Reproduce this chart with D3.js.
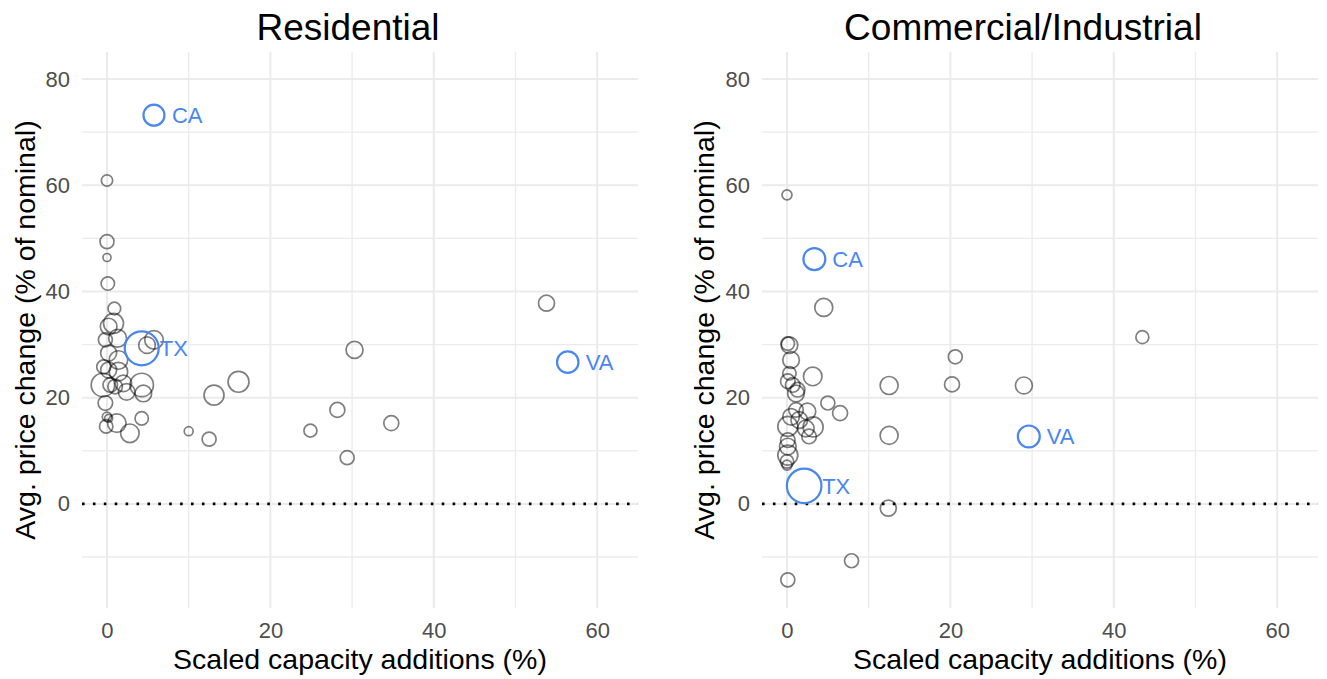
<!DOCTYPE html>
<html>
<head>
<meta charset="utf-8">
<script src="https://cdn.jsdelivr.net/npm/d3@7"></script>
<style>
  html, body { margin: 0; padding: 0; background: #ffffff; }
  svg { display: block; font-family: "Liberation Sans", Arial, sans-serif; }
</style>
</head>
<body>
<svg id="chart" width="1327" height="679"></svg>
<script>
// ---------------- DATA ----------------
const panelTitles = ["Residential", "Commercial/Industrial"];
const xTicks = [0, 20, 40, 60];
const xMinor = [10, 30, 50];
const yTicks = [0, 20, 40, 60, 80];
const yMinor = [-10, 10, 30, 50, 70];
const xTitle = "Scaled capacity additions (%)";
const yTitle = "Avg. price change (% of nominal)";

// Residential
const resX = [5.75, 4.25, 56.4,
  0, 0, 0, 0.1, 0.9, 0.8, 0.2, -0.2, 1.3, 4.9, 5.75, 0.2, 1.4, -0.4, 0.2, 1.4,
  -0.5, 0.4, 1.0, 2.0, 4.25, 4.45, 2.4, -0.2, 0, 0.2, -0.1, 1.2, 4.25, 2.8,
  10.0, 12.5, 13.1, 16.1, 24.9, 28.2, 29.4, 30.3, 34.8, 53.8];
const resY = [73.2, 29.3, 26.7,
  60.9, 49.4, 46.4, 41.5, 36.8, 34.0, 33.4, 30.9, 31.2, 29.9, 30.9, 28.4, 27.1, 25.8, 25.2, 24.9,
  22.4, 22.4, 22.1, 22.7, 22.4, 20.8, 21.1, 19.0, 16.4, 16.1, 14.6, 15.2, 16.1, 13.3,
  13.7, 12.2, 20.5, 23.0, 13.8, 17.7, 8.7, 29.0, 15.2, 37.8];
const resSize = [110, 289, 115,
  32, 49, 16, 45, 40, 100, 69, 49, 80, 69, 86, 64, 86, 49, 64, 86,
  137, 53, 53, 69, 137, 69, 69, 53, 22, 16, 45, 86, 45, 86,
  20, 49, 100, 110, 42, 56, 49, 72, 56, 64];
const resLabel = ["CA", "TX", "VA"];

// Commercial/Industrial
const comX = [3.35, 2.1, 29.6,
  0, 4.5, 43.5, 20.6, 12.5, 20.2, 29.0, 12.5, 12.4, 7.9, 0.1, 5.0, 6.5,
  0.1, 0.3, 0.5, 0.3, 3.15, 0.1, 0.7, 1.3, 1.1, 1.1, 2.5, 0.5, 1.5, 0.1, 2.3, 3.2,
  2.7, 0.1, 0.1, 0.1, 0, 0];
const comY = [46.1, 3.4, 12.7,
  58.2, 37.0, 31.4, 27.7, 22.3, 22.5, 22.3, 12.9, -0.8, -10.7, -14.3, 19.0, 17.1,
  30.2, 29.9, 27.1, 24.6, 24.0, 23.1, 22.4, 21.5, 20.8, 17.7, 17.4, 16.4, 15.8, 14.6, 14.2, 14.5,
  12.7, 12.0, 10.8, 9.2, 8.0, 7.3];
const comSize = [121, 300, 121,
  25, 81, 42, 49, 81, 56, 72, 81, 64, 49, 49, 49, 56,
  45, 69, 69, 45, 86, 53, 53, 53, 69, 53, 69, 69, 69, 100, 69, 100,
  53, 53, 69, 100, 45, 25];
const comLabel = ["CA", "TX", "VA"];

// ---------------- LAYOUT ----------------
const svg = d3.select("#chart");
const panelW = 556;
const plotTop = 52, plotBottom = 608;
const panels = [
  { left: 82, title: panelTitles[0], titleX: 348, xs: resX, ys: resY, ss: resSize, labels: resLabel, yTitleX: 25 },
  { left: 762, title: panelTitles[1], titleX: 1023, xs: comX, ys: comY, ss: comSize, labels: comLabel, yTitleX: 704 }
];

const xDomain = [-3.06, 65.0];
const yDomain = [-19.6, 85.1];
const y = d3.scaleLinear().domain(yDomain).range([plotBottom, plotTop]);
const r = d3.scaleSqrt().domain([0, 300]).range([0, 17.3]);

const gridColor = "#ebebeb";
const tickColor = "#4d4d4d";
const blue = "#4a86f0";
const fontFam = "'Liberation Sans', Arial, sans-serif";

panels.forEach(p => {
  const x = d3.scaleLinear().domain(xDomain).range([p.left, p.left + panelW]);
  const g = svg.append("g");

  // grid
  g.selectAll("line.ymin").data(yMinor).join("line")
    .attr("x1", p.left).attr("x2", p.left + panelW)
    .attr("y1", d => y(d)).attr("y2", d => y(d))
    .attr("stroke", gridColor).attr("stroke-width", 1.3);
  g.selectAll("line.xmin").data(xMinor).join("line")
    .attr("y1", plotTop).attr("y2", plotBottom)
    .attr("x1", d => x(d)).attr("x2", d => x(d))
    .attr("stroke", gridColor).attr("stroke-width", 1.3);
  g.selectAll("line.ymaj").data(yTicks).join("line")
    .attr("x1", p.left).attr("x2", p.left + panelW)
    .attr("y1", d => y(d)).attr("y2", d => y(d))
    .attr("stroke", gridColor).attr("stroke-width", 2);
  g.selectAll("line.xmaj").data(xTicks).join("line")
    .attr("y1", plotTop).attr("y2", plotBottom)
    .attr("x1", d => x(d)).attr("x2", d => x(d))
    .attr("stroke", gridColor).attr("stroke-width", 2);

  // zero reference line (dotted)
  g.append("line")
    .attr("x1", p.left).attr("x2", p.left + panelW)
    .attr("y1", y(0)).attr("y2", y(0))
    .attr("stroke", "#000").attr("stroke-width", 2.6)
    .attr("stroke-dasharray", "2.6 8.3");

  // axes
  const yAxis = d3.axisLeft(y).tickValues(yTicks).tickSize(0).tickPadding(12);
  const ya = g.append("g").attr("transform", `translate(${p.left},0)`).call(yAxis);
  ya.select(".domain").remove();
  ya.selectAll("text").attr("fill", tickColor).style("font-size", "22px")
    .style("font-family", fontFam);

  const xAxis = d3.axisBottom(x).tickValues(xTicks).tickSize(0).tickPadding(14);
  const xa = g.append("g").attr("transform", `translate(0,${plotBottom})`).call(xAxis);
  xa.select(".domain").remove();
  xa.selectAll("text").attr("fill", tickColor).style("font-size", "22px")
    .style("font-family", fontFam);

  // points
  const pts = p.xs.map((v, i) => ({ x: v, y: p.ys[i], s: p.ss[i], lab: p.labels[i] || "" }));
  const grey = pts.filter(d => !d.lab);
  const lab = pts.filter(d => d.lab);

  g.selectAll("circle.g").data(grey).join("circle")
    .attr("cx", d => x(d.x)).attr("cy", d => y(d.y)).attr("r", d => r(d.s))
    .attr("fill", "none").attr("stroke", "#000").attr("stroke-opacity", 0.5)
    .attr("stroke-width", 1.7);

  g.selectAll("circle.b").data(lab).join("circle")
    .attr("cx", d => x(d.x)).attr("cy", d => y(d.y)).attr("r", d => r(d.s))
    .attr("fill", "none").attr("stroke", blue).attr("stroke-width", 2.2);

  g.selectAll("text.lab").data(lab).join("text")
    .attr("x", d => x(d.x) + 18).attr("y", d => y(d.y))
    .attr("dy", "0.36em")
    .attr("fill", blue).style("font-size", "22px")
    .text(d => d.lab);

  // titles
  svg.append("text").attr("x", p.titleX).attr("y", 40)
    .attr("text-anchor", "middle").style("font-size", "37px").attr("fill", "#000")
    .text(p.title);
  svg.append("text").attr("x", p.left + panelW / 2).attr("y", 669)
    .attr("text-anchor", "middle").style("font-size", "28.5px").attr("fill", "#000")
    .text(xTitle);
  svg.append("text")
    .attr("transform", `translate(${p.yTitleX},${(plotTop + plotBottom) / 2}) rotate(-90)`)
    .attr("text-anchor", "middle").attr("dy", "0.36em")
    .style("font-size", "28.5px").attr("fill", "#000")
    .text(yTitle);
});
</script>
</body>
</html>
